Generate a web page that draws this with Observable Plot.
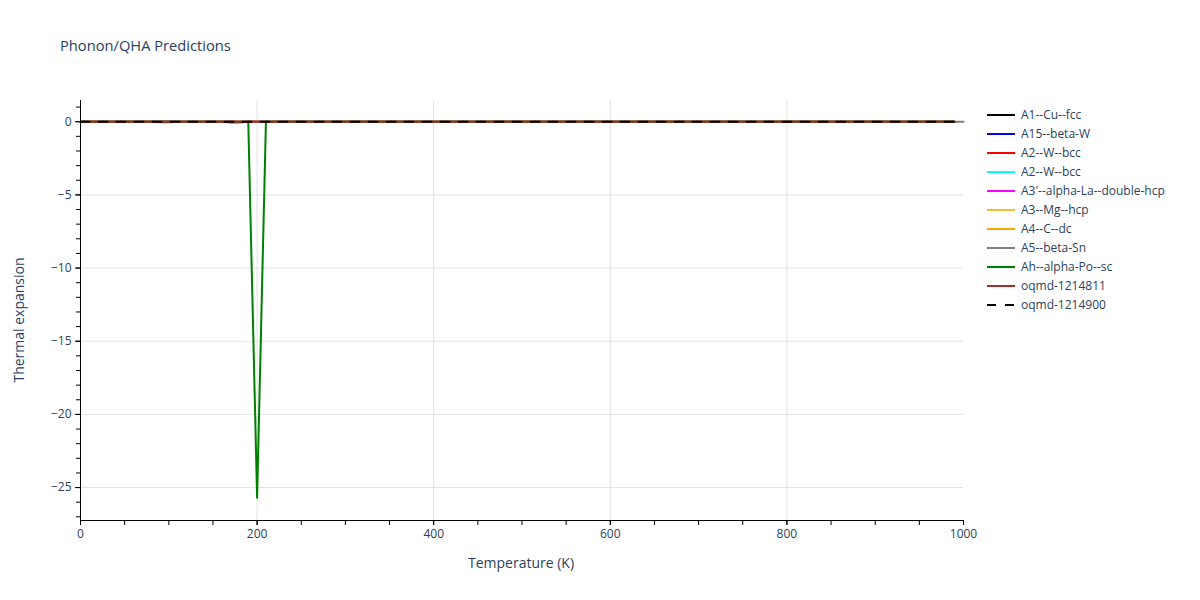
<!DOCTYPE html>
<html>
<head>
<meta charset="utf-8">
<script src="https://cdn.jsdelivr.net/npm/d3@7"></script>
<script src="https://cdn.jsdelivr.net/npm/@observablehq/plot@0.6"></script>
<style>
  html, body { margin: 0; padding: 0; background: #fff; }
  #wrap { position: relative; width: 1200px; height: 600px; font-family: "Open Sans", sans-serif; color: #2a3f5f; }
  #title { position: absolute; left: 60px; top: 35px; font-size: 14.7px; }
  #xlabel { position: absolute; left: 0; width: 1042px; text-align: center; top: 553px; font-size: 14px; }
  #ylabel { position: absolute; left: 18px; top: 320px; font-size: 14px; transform: translate(-50%, -50%) rotate(-90deg); white-space: nowrap; }
  #legend { position: absolute; left: 985px; top: 105px; font-size: 12px; }
  .item { height: 19px; display: flex; align-items: center; }
  .item svg { margin-right: 5px; }
</style>
</head>
<body>
<div id="wrap">
  <div id="chart"></div>
  <div id="title">Phonon/QHA Predictions</div>
  <div id="xlabel">Temperature (K)</div>
  <div id="ylabel">Thermal expansion</div>
  <div id="legend"></div>
</div>
<script>
// ---- data ----
const seriesNames = [
  "A1--Cu--fcc", "A15--beta-W", "A2--W--bcc", "A2--W--bcc",
  "A3'--alpha-La--double-hcp", "A3--Mg--hcp", "A4--C--dc", "A5--beta-Sn",
  "Ah--alpha-Po--sc", "oqmd-1214811", "oqmd-1214900"
];
const seriesColors = [
  "#000000", "#0000ff", "#ff0000", "#00ffff", "#ff00ff", "#f0c030",
  "#ffa500", "#808080", "#008000", "#a52a2a", "#000000"
];
const seriesDash = [null, null, null, null, null, null, null, null, null, null, "9,9"];

// temperatures (K) and thermal expansion values per series
const tempA1 = [0, 990];            const valA1 = [0, 0];
const tempA15 = [0, 990];           const valA15 = [0, 0];
const tempA2a = [0, 990];           const valA2a = [0, 0];
const tempA2b = [0, 990];           const valA2b = [0, 0];
const tempA3p = [0, 990];           const valA3p = [0, 0];
const tempA3 = [0, 990];            const valA3 = [0, 0];
const tempA4 = [0, 80, 90, 100, 110, 990]; const valA4 = [0, 0, -0.05, -0.05, 0, 0];
const tempA5 = [0, 1000];           const valA5 = [0, 0];
const tempAh = [0, 160, 170, 180, 190, 200, 210, 220, 990];
const valAh  = [0, 0, -0.05, -0.06, 0, -25.7, 0, 0, 0];
const tempO1 = [0, 990];            const valO1 = [0, 0];
const tempO2 = [0, 990];            const valO2 = [0, 0];

const temps = [tempA1, tempA15, tempA2a, tempA2b, tempA3p, tempA3, tempA4, tempA5, tempAh, tempO1, tempO2];
const vals  = [valA1, valA15, valA2a, valA2b, valA3p, valA3, valA4, valA5, valAh, valO1, valO2];

const xMajor = [0, 200, 400, 600, 800, 1000];
const yMajor = [-25, -20, -15, -10, -5, 0];

// ---- build ----
const fmt = d3.format("d");
const lineMarks = temps.map((t, i) => {
  const rows = t.map((T, j) => ({T, v: vals[i][j]}));
  return Plot.line(rows, {
    x: "T", y: "v", stroke: seriesColors[i], strokeWidth: 2,
    strokeDasharray: seriesDash[i] ?? undefined, curve: "linear"
  });
});

const chart = Plot.plot({
  width: 1200, height: 600,
  marginLeft: 80, marginRight: 237, marginTop: 100, marginBottom: 80,
  style: { fontFamily: "Open Sans, sans-serif", fontSize: "12px", color: "#2a3f5f", background: "#fff" },
  x: { domain: [0, 1000] },
  y: { domain: [-27.25, 1.45] },
  marks: [
    Plot.gridX([200, 400, 600, 800], { stroke: "#e2e2e2", strokeOpacity: 1, strokeWidth: 1 }),
    Plot.gridY(yMajor, { stroke: "#e2e2e2", strokeOpacity: 1, strokeWidth: 1 }),
    Plot.axisX({ ticks: d3.range(0, 1001, 50), tickSize: 5, text: null, stroke: "#000", label: null }),
    Plot.axisX({ ticks: xMajor, tickSize: 5, tickPadding: 4, tickFormat: fmt, stroke: "#000", fill: "#2a3f5f", label: null }),
    Plot.axisY({ ticks: d3.range(-27, 2, 1), tickSize: 4, text: null, stroke: "#000", label: null }),
    Plot.axisY({ ticks: yMajor, tickSize: 5, tickPadding: 4, tickFormat: fmt, stroke: "#000", fill: "#2a3f5f", label: null }),
    ...lineMarks,
    Plot.ruleX([0], { stroke: "#000", strokeWidth: 1 }),
    Plot.ruleY([-27.25], { stroke: "#000", strokeWidth: 1 })
  ]
});
document.getElementById("chart").appendChild(chart);

// legend
const leg = document.getElementById("legend");
seriesNames.forEach((name, i) => {
  const item = document.createElement("div");
  item.className = "item";
  const dash = seriesDash[i] ? `stroke-dasharray="9,9" ` : "";
  item.innerHTML = `<svg width="31" height="4"><line x1="2" y1="2" x2="30" y2="2" stroke="${seriesColors[i]}" stroke-width="2" ${dash}/></svg><span>${name}</span>`;
  leg.appendChild(item);
});
</script>
</body>
</html>
